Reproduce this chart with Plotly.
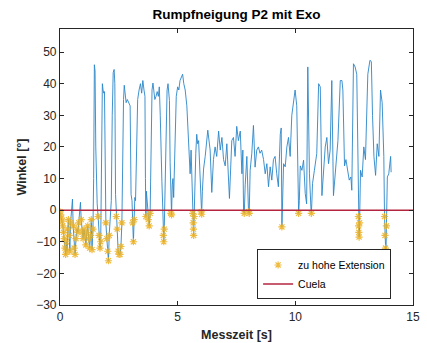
import plotly.graph_objects as go

# Measurement time [s]
time_s = [
    0.00, 0.03, 0.06, 0.09, 0.12, 0.15, 0.18, 0.21, 0.24, 0.27, 0.30, 0.33, 0.36, 0.39, 0.42, 0.45,
    0.50, 0.53, 0.56, 0.60, 0.64, 0.68, 0.72, 0.76, 0.80, 0.84, 0.87, 0.90, 0.94, 0.98, 1.02, 1.06,
    1.10, 1.14, 1.18, 1.22, 1.26, 1.30, 1.33, 1.36, 1.40, 1.43, 1.46, 1.49, 1.52, 1.55, 1.58, 1.62,
    1.66, 1.70, 1.73, 1.76, 1.80, 1.83, 1.86, 1.89, 1.92, 1.95, 1.99, 2.03, 2.06, 2.09, 2.14, 2.18,
    2.22, 2.26, 2.30, 2.33, 2.36, 2.39, 2.43, 2.47, 2.51, 2.55, 2.59, 2.63, 2.66, 2.70, 2.73, 2.77,
    2.81, 2.86, 2.92, 2.98, 3.02, 3.06, 3.09, 3.12, 3.15, 3.18, 3.21, 3.25, 3.30, 3.36, 3.42, 3.47,
    3.52, 3.57, 3.61, 3.63, 3.65, 3.67, 3.71, 3.75, 3.79, 3.83, 3.87, 3.91, 3.95, 3.99, 4.03, 4.08,
    4.13, 4.18, 4.22, 4.26, 4.30, 4.33, 4.37, 4.39, 4.41, 4.43, 4.46, 4.50, 4.55, 4.59, 4.62, 4.65,
    4.68, 4.71, 4.74, 4.77, 4.80, 4.83, 4.88, 4.94, 5.00, 5.05, 5.10, 5.15, 5.21, 5.26, 5.32, 5.39,
    5.46, 5.53, 5.57, 5.61, 5.64, 5.66, 5.67, 5.68, 5.70, 5.73, 5.77, 5.81, 5.85, 5.89, 5.93, 5.97,
    6.00, 6.02, 6.05, 6.10, 6.17, 6.28, 6.38, 6.45, 6.52, 6.59, 6.66, 6.74, 6.81, 6.88, 6.95, 7.02,
    7.09, 7.16, 7.20, 7.30, 7.37, 7.44, 7.51, 7.58, 7.66, 7.73, 7.77, 7.80, 7.83, 7.87, 7.94, 8.01,
    8.04, 8.08, 8.15, 8.22, 8.29, 8.36, 8.43, 8.50, 8.57, 8.65, 8.72, 8.79, 8.86, 8.93, 9.00, 9.07,
    9.14, 9.21, 9.28, 9.36, 9.40, 9.43, 9.45, 9.50, 9.57, 9.64, 9.71, 9.78, 9.85, 9.92, 9.99, 10.06,
    10.10, 10.14, 10.17, 10.21, 10.28, 10.35, 10.42, 10.48, 10.53, 10.60, 10.66, 10.68, 10.70, 10.73,
    10.81, 10.91, 10.99, 11.06, 11.13, 11.20, 11.27, 11.34, 11.41, 11.48, 11.55, 11.62, 11.70, 11.77,
    11.81, 11.91, 11.98, 12.02, 12.09, 12.15, 12.23, 12.29, 12.36, 12.40, 12.47, 12.54, 12.61, 12.66,
    12.68, 12.69, 12.70, 12.71, 12.73, 12.77, 12.84, 12.91, 12.98, 13.08, 13.17, 13.23, 13.28, 13.34,
    13.41, 13.48, 13.55, 13.62, 13.69, 13.76, 13.79, 13.81, 13.83, 13.85, 13.87, 13.91, 13.97, 14.05,
    14.07,
]

# Trunk inclination angle [deg]
angle_deg = [
    -0.5, -1.5, -2.5, -3.5, -5.0, -7.0, -9.0, -12.0, -14.0, -10.0, -13.0, -6.0, -3.0, -8.0, -13.0, -4.0,
    1.0, 3.5, -5.0, -12.0, -14.0, -9.0, -6.0, -7.0, -4.0, 1.0, 2.5, -3.0, -7.0, -9.0, -6.0, -8.0,
    -11.0, -7.0, -5.0, -9.0, -12.0, -8.0, -3.0, -12.5, -6.0, 10.0, 46.0, 44.0, 20.0, 3.0, 2.0, -2.0,
    -8.0, -12.0, -10.0, 5.0, 40.0, 38.0, 37.0, 37.5, 10.0, -4.0, -9.0, -13.0, -16.0, -8.0, 0.0, 3.0,
    30.0, 43.5, 44.5, 40.0, 5.0, -2.0, -6.0, -13.0, -14.0, -14.0, -11.5, -4.0, 20.0, 35.0, 39.5, 36.0,
    34.0, 35.0, 34.0, 33.0, 5.0, 3.0, -4.0, -10.0, -3.0, 4.0, 3.0, 20.0, 35.0, 38.0, 40.0, 37.0,
    41.0, 38.0, 36.0, 10.0, -2.0, 6.0, 2.0, -3.0, -5.0, -1.0, 15.0, 38.0, 40.2, 37.0, 35.0, 36.0,
    37.5, 36.0, 39.0, 30.0, 9.0, 9.0, 0.0, -8.0, -10.0, -6.0, 5.0, 30.0, 38.0, 40.0, 36.0, 34.7,
    15.0, -1.0, -1.5, 8.0, 10.0, 4.0, 20.0, 36.0, 39.0, 38.0, 41.0, 42.0, 43.0, 40.0, 38.0, 33.0,
    22.0, 11.5, 19.0, 5.0, -1.0, -4.0, -6.0, -8.0, -2.0, 10.0, 18.0, 24.0, 21.0, 22.0, 14.0, 5.0,
    -0.5, -1.3, 6.0, 13.0, 17.0, 25.3, 19.0, 5.6, 16.0, 20.0, 17.0, 25.0, 19.0, 23.0, 16.0, 14.0,
    21.0, 11.5, 3.7, 22.0, 23.0, 17.0, 26.5, 22.0, 25.0, 11.5, 19.0, 0.0, -1.0, 8.0, 17.0, -0.5,
    -1.0, 12.6, 18.0, 26.8, 13.6, 19.0, 20.0, 18.0, 19.0, 16.0, 11.5, 14.7, 7.4, 13.7, 9.5, 16.0,
    17.0, 11.5, 7.4, 24.0, 26.0, -5.3, 3.0, 14.7, 13.7, 20.0, 23.0, 17.0, 30.0, 35.0, 38.0, 33.0,
    5.0, -1.0, 3.0, 14.0, 12.6, 15.8, 5.3, 2.0, 45.3, 11.5, 1.0, -1.0, 2.0, 8.4,
    12.6, 17.9, 40.0, 39.0, 4.6, 13.0, 20.0, 23.0, 14.7, 19.0, 41.0, 4.6, 13.0, 20.0,
    22.0, 41.0, 41.0, 38.0, 14.0, 16.0, 12.6, 9.5, 10.5, 6.3, 46.3, 45.3, 43.0, 10.0,
    -2.0, -5.0, -7.0, -8.5, -4.0, 12.6, 10.5, 20.0, 16.0, 43.0, 47.4, 47.0, 30.0, 17.0,
    11.0, 21.0, 17.0, 38.0, 34.0, 17.0, -2.0, -8.0, -12.0, -15.0, -5.0, 10.5, 11.5, 17.0,
    12.0,
]

# Samples flagged as too much extension (angle below zero)
ext_time = [t for t, a in zip(time_s, angle_deg) if a < 0]
ext_angle = [a for a in angle_deg if a < 0]

# Reference line (Cuela) at 0 degrees
ref_x = [0, 15]
ref_y = [0, 0]

x_ticks = [0, 5, 10, 15]
y_ticks = [-30, -20, -10, 0, 10, 20, 30, 40, 50]

font_family = "Arial, Liberation Sans, Helvetica, sans-serif"

fig = go.Figure()
fig.add_trace(go.Scatter(
    x=time_s, y=angle_deg, mode="lines",
    line=dict(color="#2a86c8", width=0.9),
    showlegend=False, hoverinfo="skip",
))
fig.add_trace(go.Scatter(
    x=ext_time, y=ext_angle, mode="markers", name="zu hohe Extension",
    marker=dict(symbol="asterisk", size=6, color="#EDB120",
                line=dict(color="#EDB120", width=1.2)),
    opacity=0.85,
))
fig.add_trace(go.Scatter(
    x=ref_x, y=ref_y, mode="lines", name="Cuela",
    line=dict(color="#B5243F", width=1.5),
))

axis_common = dict(
    showgrid=False, zeroline=False, showline=True, linecolor="#262626", linewidth=1.2,
    mirror="ticks", ticks="inside", ticklen=4, tickcolor="#262626", automargin=False,
    tickfont=dict(family=font_family, size=12, color="#262626"),
)

fig.update_layout(
    width=427, height=343,
    margin=dict(l=60, r=14, t=29, b=38, autoexpand=False),
    paper_bgcolor="white", plot_bgcolor="white",
    font=dict(family=font_family, color="#262626"),
    title=dict(text="<b>Rumpfneigung P2 mit Exo</b>", x=0.5, xref="paper", xanchor="center",
               y=1 - 14 / 343, yref="container", yanchor="middle", automargin=False,
               font=dict(family=font_family, size=13.5, color="#000000")),
    xaxis=dict(range=[0, 15], tickvals=x_ticks,
               title=dict(text="<b>Messzeit [s]</b>", standoff=7,
                          font=dict(family=font_family, size=12.5, color="#262626")),
               **axis_common),
    yaxis=dict(range=[-30, 57.3], tickvals=y_ticks,
               title=dict(text="<b>Winkel [°]</b>", standoff=6,
                          font=dict(family=font_family, size=12.5, color="#262626")),
               **axis_common),
    legend=dict(x=0.938, xanchor="right", y=0.02, yanchor="bottom",
                bgcolor="white", bordercolor="#262626", borderwidth=1,
                font=dict(family=font_family, size=10.5, color="#000000"),
                tracegroupgap=0, itemwidth=30),
)

fig.write_html("out.html", config={"displayModeBar": False},
               post_script="document.body.style.margin='0';")
